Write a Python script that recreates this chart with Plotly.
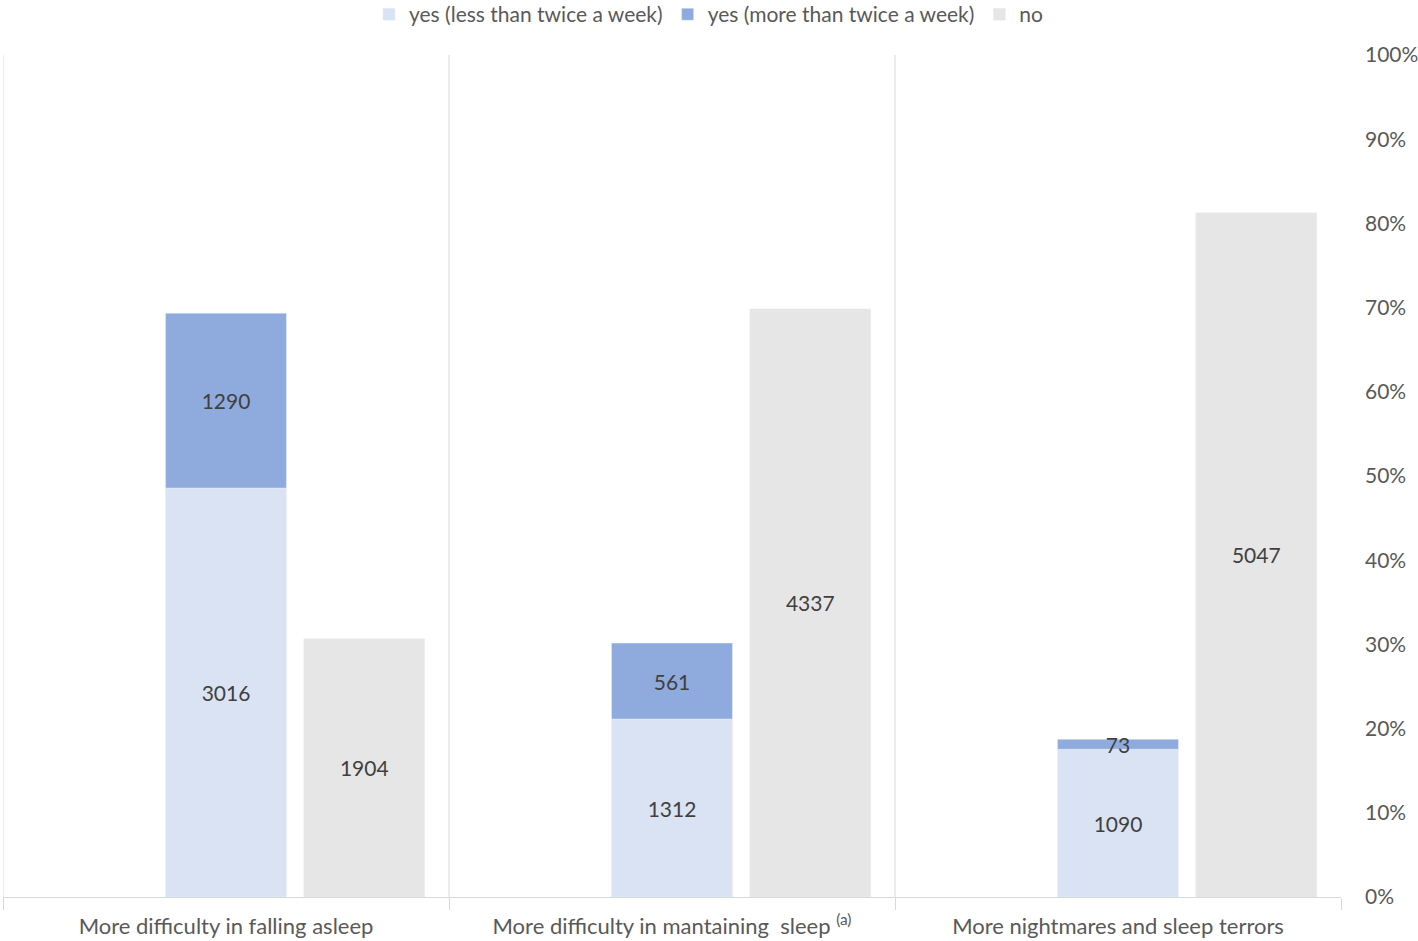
import plotly.graph_objects as go

categories = [
    "More difficulty in falling asleep",
    "More difficulty in mantaining  sleep <sup>(a)</sup>",
    "More nightmares and sleep terrors",
]
yes_less = [3016, 1312, 1090]
yes_more = [1290, 561, 73]
no = [1904, 4337, 5047]

totals = [a + b + c for a, b, c in zip(yes_less, yes_more, no)]
pct_less = [v / t for v, t in zip(yes_less, totals)]
pct_more = [v / t for v, t in zip(yes_more, totals)]
pct_no = [v / t for v, t in zip(no, totals)]

FONT = "Lato"
TEXT_COLOR = "#595959"
LABEL_COLOR = "#404040"
LINE_COLOR = "#d9d9d9"
BAR_W = 0.271

fig = go.Figure()

fig.add_trace(go.Bar(
    name="yes (less than twice a week)",
    x=categories, y=pct_less,
    offset=-BAR_W / 2, width=BAR_W,
    marker_color="#dae3f3",
    text=[str(v) for v in yes_less],
    textposition="inside", insidetextanchor="middle", textangle=0,
    textfont=dict(color=LABEL_COLOR, size=21, family=FONT),
))
fig.add_trace(go.Bar(
    name="yes (more than twice a week)",
    x=categories, y=pct_more, base=pct_less,
    offset=-BAR_W / 2, width=BAR_W,
    marker_color="#8faadc",
    text=[str(v) for v in yes_more],
    textposition="inside", insidetextanchor="middle", textangle=0,
    textfont=dict(color=LABEL_COLOR, size=21, family=FONT),
))
fig.add_trace(go.Bar(
    name="no",
    x=categories, y=pct_no,
    offset=0.31 - BAR_W / 2, width=BAR_W,
    marker_color="#e6e6e6",
    text=[str(v) for v in no],
    textposition="inside", insidetextanchor="middle", textangle=0,
    textfont=dict(color=LABEL_COLOR, size=21, family=FONT),
))

# category separators: full-height gridlines at the left three boundaries
for b in [-0.5, 0.5, 1.5]:
    fig.add_shape(type="line", xref="x", yref="paper", x0=b, x1=b, y0=0, y1=1,
                  line=dict(color=LINE_COLOR, width=1), layer="below")

fig.update_layout(
    width=1418, height=941,
    barmode="overlay",
    plot_bgcolor="white", paper_bgcolor="white",
    margin=dict(l=3, r=77, t=55, b=44, autoexpand=False),
    font=dict(family=FONT, size=22, color=TEXT_COLOR),
    uniformtext=dict(minsize=21, mode="show"),
    legend=dict(
        orientation="h", xref="container",
        x=0.5, xanchor="center", y=1.048, yanchor="middle",
        font=dict(size=21, color=TEXT_COLOR),
        traceorder="normal",
    ),
    xaxis=dict(
        type="category", range=[-0.5, 2.5], automargin=False,
        tickson="boundaries", ticks="outside", ticklen=12, tickcolor=LINE_COLOR,
        showgrid=False,
        showline=True, linecolor=LINE_COLOR, linewidth=1,
        ticklabelstandoff=10,
        tickfont=dict(size=22, color=TEXT_COLOR),
    ),
    yaxis=dict(
        side="right", range=[0, 1], dtick=0.1, tickformat=".0%",
        showgrid=False, zeroline=False, showline=False, automargin=False,
        ticklabelstandoff=23,
        tickfont=dict(size=21, color=TEXT_COLOR),
    ),
)

# drop the default 8px body margin so the figure fills the window
fig.write_html(
    "out.html",
    config={"displayModeBar": False},
    post_script="document.body.style.margin='0';document.body.style.overflow='hidden';",
)
